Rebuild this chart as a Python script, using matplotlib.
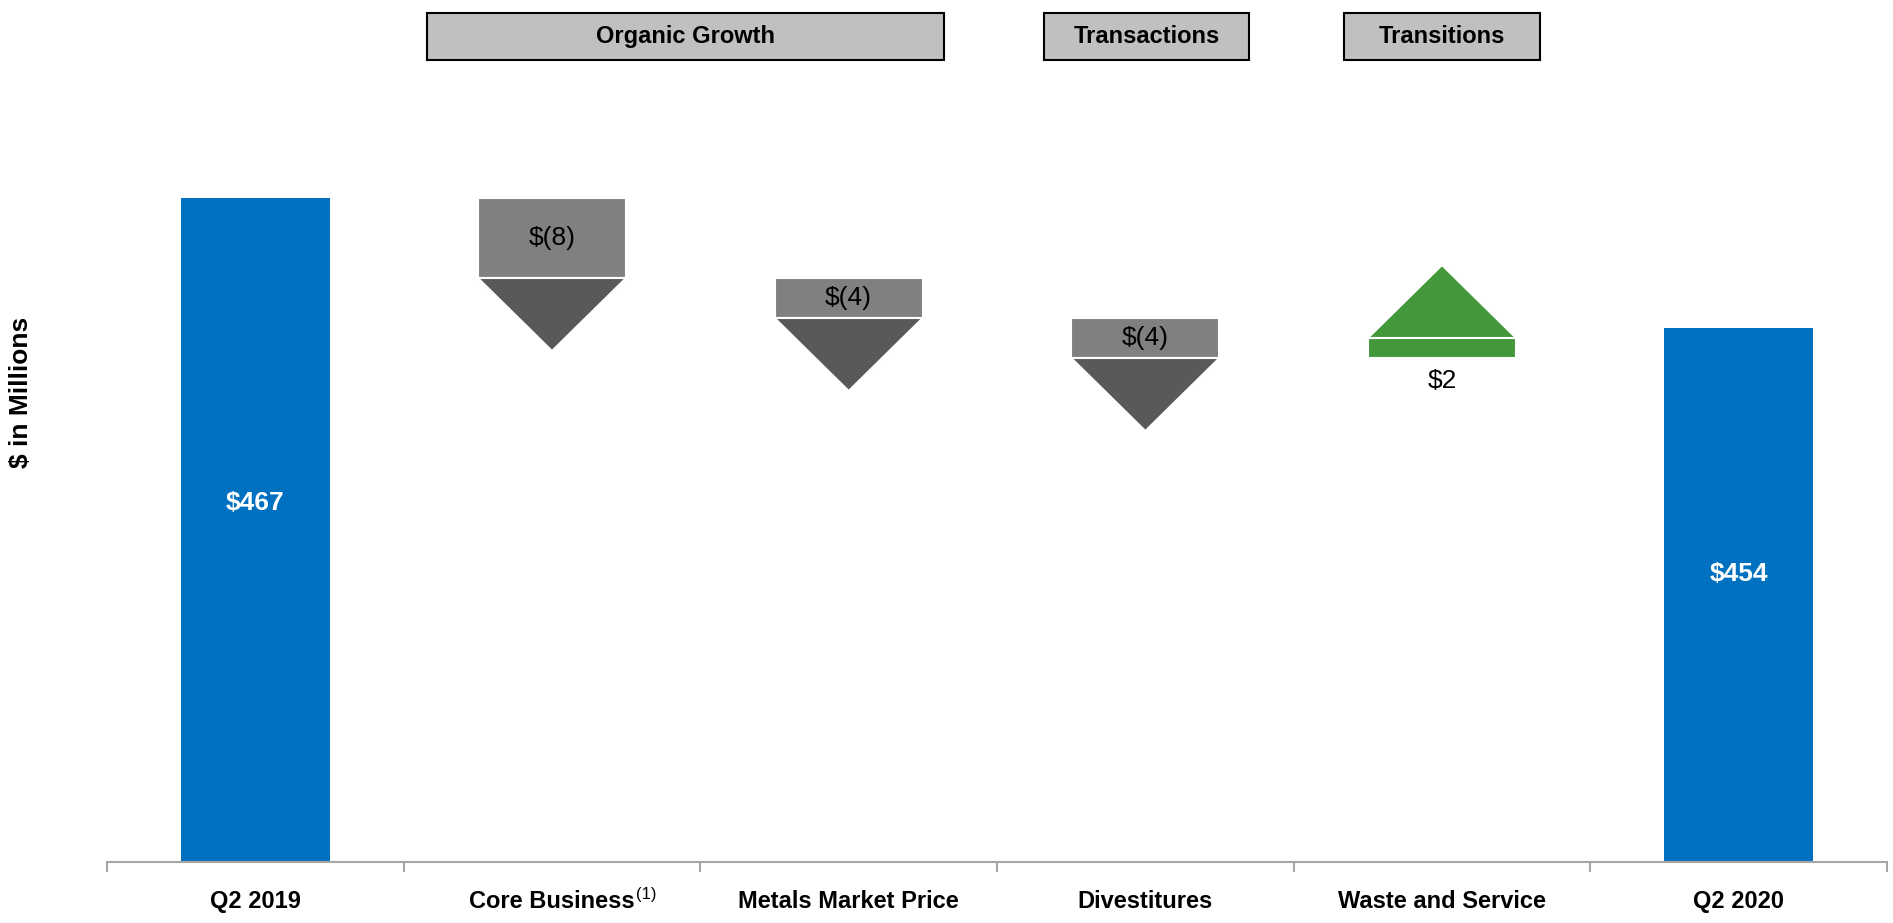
import matplotlib.pyplot as plt
import matplotlib.transforms as mtransforms
from matplotlib.patches import Polygon, Rectangle

plt.rcParams['font.family'] = ['Liberation Sans', 'DejaVu Sans']

# data
categories = ['Q2 2019', 'Core Business', 'Metals Market Price', 'Divestitures',
              'Waste and Service', 'Q2 2020']
start_value = 467
changes = [-8, -4, -4, 2]
end_value = 454
value_labels = ['$467', '$(8)', '$(4)', '$(4)', '$2', '$454']
groups = ['Organic Growth', 'Transactions', 'Transitions']
group_spans = [(0.58, 2.32), (2.66, 3.35), (3.67, 4.33)]

blue = '#0070C0'
box_grey = '#808080'
tri_grey = '#595959'
green = '#43983B'
axis_grey = '#A6A6A6'

W, H = 1893, 923
fig = plt.figure(figsize=(W / 100, H / 100), dpi=100)
ax = fig.add_axes([107 / W, 1 - 862 / H, (1887 - 107) / W, (862 - 100) / H])
ymin, ymax = 400.6, 476.8
ax.set_ylim(ymin, ymax)
ax.set_xlim(-0.5, 5.5)

bw = 0.5
tri_h = 7.3

# totals
for x, v, lab in [(0, start_value, value_labels[0]), (5, end_value, value_labels[-1])]:
    ax.bar(x, v, width=bw, color=blue, zorder=2)
    ax.text(x, ymin + (v - ymin) * 0.54, lab, color='white', fontsize=19,
            fontweight='bold', ha='center', va='center')

# changes
level = start_value
for i, d in enumerate(changes):
    x = i + 1
    new = level + d
    if d < 0:
        ax.bar(x, d, bottom=level, width=bw, color=box_grey, edgecolor='white',
               linewidth=1.5, zorder=2)
        tri = [(x - bw / 2, new), (x + bw / 2, new), (x, new - tri_h)]
        ax.add_patch(Polygon(tri, closed=True, facecolor=tri_grey, edgecolor='white',
                             linewidth=1.5, zorder=2))
        ax.text(x, (level + new) / 2, value_labels[i + 1], fontsize=19,
                ha='center', va='center', zorder=3)
    else:
        ax.bar(x, d, bottom=level, width=bw, color=green, edgecolor='white',
               linewidth=1.5, zorder=2)
        tri = [(x - bw / 2, new), (x + bw / 2, new), (x, new + tri_h)]
        ax.add_patch(Polygon(tri, closed=True, facecolor=green, edgecolor='white',
                             linewidth=1.5, zorder=2))
        ax.text(x, level - 2.3, value_labels[i + 1], fontsize=19,
                ha='center', va='center', zorder=3)
    level = new

# axes styling
for s in ['top', 'right', 'left']:
    ax.spines[s].set_visible(False)
ax.spines['bottom'].set_color(axis_grey)
ax.spines['bottom'].set_linewidth(1.5)
ax.set_yticks([])
ax.set_xticks(range(len(categories)))
ax.set_xticklabels(categories, fontsize=17, fontweight='bold')
ax.set_xticks([i - 0.5 for i in range(len(categories) + 1)], minor=True)
ax.tick_params(axis='x', which='major', length=0, pad=20)
ax.tick_params(axis='x', which='minor', length=7, width=1.5, color=axis_grey)

fig.text(21 / W, 1 - 392 / H, '$ in Millions', rotation=90, fontsize=19,
         fontweight='bold', ha='center', va='center')

# group headers
trans = mtransforms.blended_transform_factory(ax.transData, fig.transFigure)
y0, y1 = 1 - 60 / H, 1 - 13 / H
for name, (a, b) in zip(groups, group_spans):
    ax.add_patch(Rectangle((a, y0), b - a, y1 - y0, transform=trans, facecolor='#C0C0C0',
                           edgecolor='black', linewidth=1.5, clip_on=False))
    ax.text((a + b) / 2, (y0 + y1) / 2, name, transform=trans, fontsize=17,
            fontweight='bold', ha='center', va='center')

# footnote marker on Core Business
fig.canvas.draw()
lbl = ax.get_xticklabels()[1]
bb = lbl.get_window_extent()
fig.text((bb.x1 + 1) / W, (bb.y1 + 3) / H, '(1)', fontsize=12, ha='left', va='top')

fig.savefig('out.png', dpi=100)
